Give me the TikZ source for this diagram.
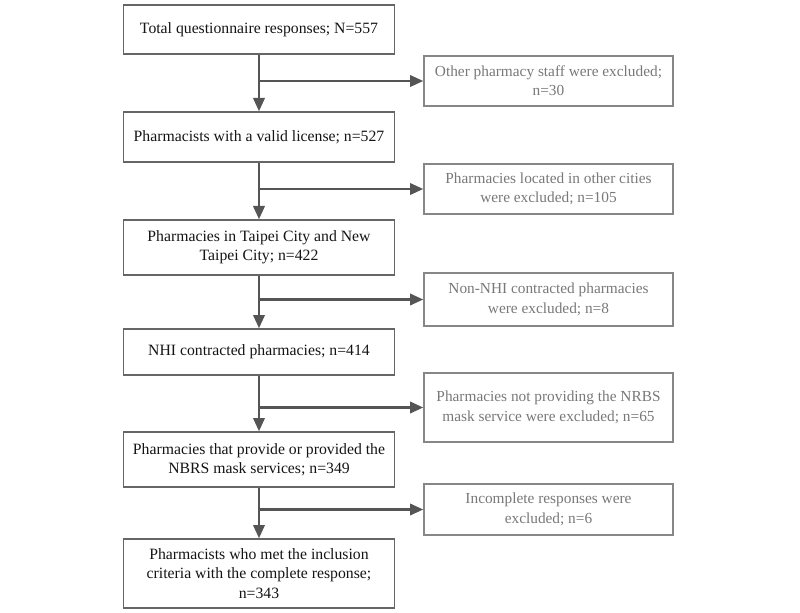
\documentclass[tikz,border=0pt]{standalone}
\usepackage{fontspec}
\setmainfont{Liberation Serif}
\usetikzlibrary{arrows.meta}
\tikzset{every picture/.style={line width=0.75pt}}

\begin{document}
\begin{tikzpicture}[x=0.75pt,y=0.75pt,yscale=-1,xscale=1,
    stagebox/.style={draw={rgb,255:red,102;green,102;blue,102},line width=1pt,minimum width=203.25pt,inner sep=0.75pt,align=center,font=\fontsize{11.8}{14.5}\selectfont,text={rgb,255:red,20;green,20;blue,20}},
    exclbox/.style={draw={rgb,255:red,135;green,135;blue,135},line width=1pt,minimum width=186.75pt,inner sep=0.75pt,align=center,font=\fontsize{11.5}{14.5}\selectfont,text={rgb,255:red,120;green,120;blue,120}},
    flow/.style={draw={rgb,255:red,85;green,85;blue,85},line width=2pt,-{Triangle[length=10pt,width=8.5pt]}}]
    \useasboundingbox (0,0) rectangle (800,613);

    % Stage Nodes
    \node [stagebox,minimum height=36.75pt] (total) at (259,29.5) {Total questionnaire responses; N=557};
    \node [stagebox,minimum height=37.5pt] (license) at (259,137) {Pharmacists with a valid license; n=527};
    \node [stagebox,minimum height=41.25pt] (taipei) at (259,247.5) {Pharmacies in Taipei City and New\\Taipei City; n=422};
    \node [stagebox,minimum height=34.5pt] (nhi) at (259,352) {NHI contracted pharmacies; n=414};
    \node [stagebox,minimum height=41.25pt] (nbrs) at (259,459.5) {Pharmacies that provide or provided the\\NBRS mask services; n=349};
    \node [stagebox,minimum height=51.75pt] (final) at (259,573.5) {Pharmacists who met the inclusion\\criteria with the complete response;\\n=343};

    % Excluded Nodes
    \node [exclbox,minimum height=37.5pt] (exstaff) at (548.5,81) {Other pharmacy staff were excluded;\\n=30};
    \node [exclbox,minimum height=37.5pt] (excity) at (548.5,189) {Pharmacies located in other cities\\were excluded; n=105};
    \node [exclbox,minimum height=39.75pt] (exnhi) at (548.5,299.5) {Non-NHI contracted pharmacies\\were excluded; n=8};
    \node [exclbox,minimum height=51.75pt] (exmask) at (548.5,407.5) {Pharmacies not providing the NRBS\\mask service were excluded; n=65};
    \node [exclbox,minimum height=38.25pt] (exresp) at (548.5,509.5) {Incomplete responses were\\excluded; n=6};

    %Straight Lines
    \draw [flow] (total.south) -- (license.north);
    \draw [flow] (total.south |- exstaff.west) -- (exstaff.west);
    \draw [flow] (license.south) -- (taipei.north);
    \draw [flow] (license.south |- excity.west) -- (excity.west);
    \draw [flow] (taipei.south) -- (nhi.north);
    \draw [flow] (taipei.south |- exnhi.west) -- (exnhi.west);
    \draw [flow] (nhi.south) -- (nbrs.north);
    \draw [flow] (nhi.south |- exmask.west) -- (exmask.west);
    \draw [flow] (nbrs.south) -- (final.north);
    \draw [flow] (nbrs.south |- exresp.west) -- (exresp.west);

\end{tikzpicture}
\end{document}
